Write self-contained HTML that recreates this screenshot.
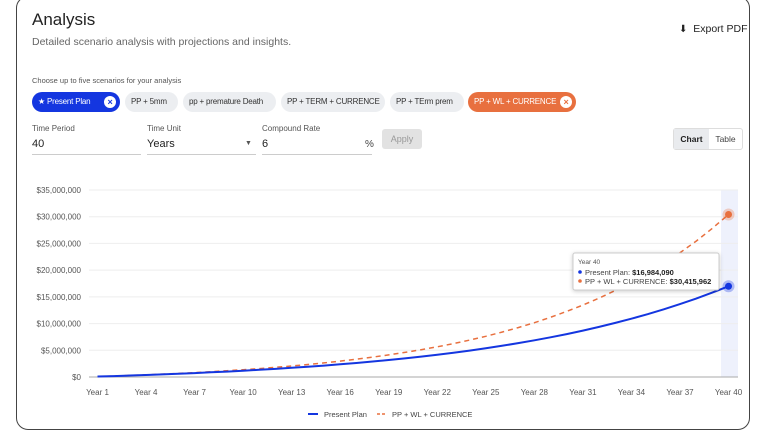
<!DOCTYPE html>
<html><head><meta charset="utf-8"><style>
body{margin:0;width:768px;height:432px;background:#fff;font-family:"Liberation Sans",sans-serif;overflow:hidden;position:relative}
.card{position:absolute;left:16px;top:-4px;width:734px;height:434px;border:1.5px solid #444;border-radius:12px;box-sizing:border-box}
.a{position:absolute;white-space:nowrap}
.chip{position:absolute;top:92px;height:20px;border-radius:10px;background:#eceef1;font-size:8px;color:#333;line-height:20px;padding:0 6px;box-sizing:border-box;white-space:nowrap;overflow:hidden;letter-spacing:-0.2px}
.lbl{font-size:8px;color:#555}
.val{font-size:11px;color:#222}
.ul{position:absolute;top:154px;height:1px;background:#ccc}
</style></head><body>
<div class="card"></div>
<div class="a" style="left:32px;top:10px;font-size:17px;color:#222">Analysis</div>
<div class="a" style="left:32px;top:36px;font-size:10.5px;color:#666">Detailed scenario analysis with projections and insights.</div>
<div class="a" style="left:679px;top:23px;font-size:10.5px;color:#222"><span style="font-size:10px">⬇</span>&nbsp; Export PDF</div>
<div class="a" style="left:32px;top:76px;font-size:7.5px;color:#555">Choose up to five scenarios for your analysis</div>
<div class="chip" style="left:32px;width:88px;background:#1436e0;color:#fff;padding-left:6px">★ Present Plan <span style="position:absolute;right:4px;top:4px;width:12px;height:12px;border-radius:6px;background:#fff;color:#1436e0;font-size:9px;line-height:12px;text-align:center;font-weight:bold">×</span></div>
<div class="chip" style="left:125px;width:53px">PP + 5mm</div>
<div class="chip" style="left:183px;width:93px">pp + premature Death</div>
<div class="chip" style="left:281px;width:104px">PP + TERM + CURRENCE</div>
<div class="chip" style="left:390px;width:74px">PP + TErm prem</div>
<div class="chip" style="left:468px;width:108px;background:#e8703f;color:#fff">PP + WL + CURRENCE <span style="position:absolute;right:4px;top:4px;width:12px;height:12px;border-radius:6px;background:#fff;color:#e8703f;font-size:9px;line-height:12px;text-align:center;font-weight:bold">×</span></div>
<div class="a lbl" style="left:32px;top:124px">Time Period</div>
<div class="a val" style="left:32px;top:138px">40</div>
<div class="ul" style="left:32px;width:109px"></div>
<div class="a lbl" style="left:147px;top:124px">Time Unit</div>
<div class="a val" style="left:147px;top:138px">Years</div>
<div class="a" style="left:245px;top:140px;font-size:7px;color:#555">▼</div>
<div class="ul" style="left:147px;width:109px"></div>
<div class="a lbl" style="left:262px;top:124px">Compound Rate</div>
<div class="a val" style="left:262px;top:138px">6</div>
<div class="a" style="left:365px;top:139px;font-size:10px;color:#444">%</div>
<div class="ul" style="left:262px;width:110px"></div>
<div class="a" style="left:382px;top:129px;width:40px;height:20px;background:#e2e2e2;border-radius:3px;font-size:9px;color:#999;text-align:center;line-height:20px">Apply</div>
<div class="a" style="left:673px;top:128px;width:70px;height:22px;border:1px solid #ddd;border-radius:3px;box-sizing:border-box;font-size:8.5px;line-height:20px">
<span style="display:inline-block;width:35px;background:#e9ebee;text-align:center;font-weight:bold;color:#222">Chart</span><span style="display:inline-block;width:33px;text-align:center;color:#444">Table</span></div>
<svg id="c" class="a" style="left:0;top:0" width="768" height="432" font-family="Liberation Sans, sans-serif"></svg>
<script>
var s='',X=function(t){return 97.5+(t-1)*16.18},Y=function(v){return 377-v/35e6*187};
s+='<rect x="721" y="190" width="17" height="187" fill="#eef1fc"/>';
for(var i=0;i<=7;i++){var y=Y(i*5e6);s+='<line x1="89" x2="738" y1="'+y+'" y2="'+y+'" stroke="'+(i?'#eee':'#aaa')+'" stroke-width="1"/>';
s+='<text x="81" y="'+(y+3)+'" font-size="8" fill="#555" text-anchor="end">$'+(i*5e6).toLocaleString('en-US')+'</text>';}
for(var t=1;t<=40;t+=3)s+='<text x="'+X(t)+'" y="395" font-size="8" fill="#555" text-anchor="middle">Year '+t+'</text>';
function p(end,r){var d='',den=Math.pow(r,40)-1;for(var t=1;t<=40;t++){var v=(Math.pow(r,t)-1)/den*end;d+=(t>1?'L':'M')+X(t).toFixed(1)+','+Y(v).toFixed(1);}return d;}
s+='<path d="'+p(30415962,1.09)+'" fill="none" stroke="#e8703f" stroke-width="1.5" stroke-dasharray="5,4"/>';
s+='<path d="'+p(16984090,1.07)+'" fill="none" stroke="#1436e0" stroke-width="2"/>';
s+='<circle cx="'+X(40)+'" cy="'+Y(30415962)+'" r="6" fill="#e8703f" opacity=".3"/><circle cx="'+X(40)+'" cy="'+Y(30415962)+'" r="3.5" fill="#e8703f"/>';
s+='<circle cx="'+X(40)+'" cy="'+Y(16984090)+'" r="6" fill="#1436e0" opacity=".3"/><circle cx="'+X(40)+'" cy="'+Y(16984090)+'" r="3.5" fill="#1436e0"/>';
s+='<rect x="573" y="253" width="146" height="37" fill="#fff" stroke="#ccc" rx="2" style="filter:drop-shadow(0 1px 2px rgba(0,0,0,.2))"/>';
s+='<text x="578" y="264" font-size="6.5" fill="#555">Year 40</text>';
s+='<circle cx="580" cy="272" r="1.8" fill="#1436e0"/><text x="585" y="275" font-size="7.5" fill="#444">Present Plan: <tspan font-weight="bold" fill="#222">$16,984,090</tspan></text>';
s+='<circle cx="580" cy="281" r="1.8" fill="#e8703f"/><text x="585" y="284" font-size="7.5" fill="#444">PP + WL + CURRENCE: <tspan font-weight="bold" fill="#222">$30,415,962</tspan></text>';
s+='<line x1="308" x2="318" y1="414" y2="414" stroke="#1436e0" stroke-width="2"/><text x="324" y="417" font-size="7.5" fill="#444">Present Plan</text>';
s+='<line x1="377" x2="387" y1="414" y2="414" stroke="#e8703f" stroke-width="1.5" stroke-dasharray="3,2"/><text x="392" y="417" font-size="7.5" fill="#444">PP + WL + CURRENCE</text>';
document.getElementById('c').innerHTML=s;
</script>
</body></html>
